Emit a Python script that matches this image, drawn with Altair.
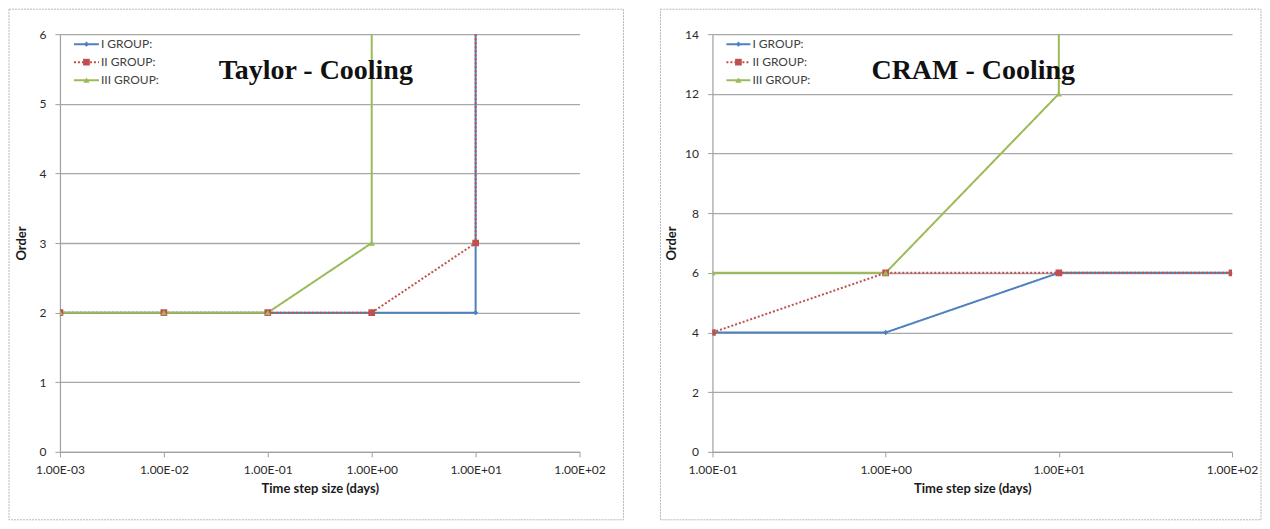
import altair as alt
import pandas as pd
import math

# ---------------- data ----------------
groups = ["I GROUP:", "II GROUP:", "III GROUP:"]
colors = ["#4F81BD", "#C0504D", "#9BBB59"]
shapes = ["diamond", "square", "triangle-up"]
dashes = [[1, 0], [2, 2], [1, 0]]
marker_sizes = [28, 45, 38]

OFF = 100  # order diverged: the series runs off the top of the axis

# Taylor - Cooling
taylor_I_x = [0.001, 0.01, 0.1, 1, 10, 10]
taylor_I_y = [2, 2, 2, 2, 2, OFF]
taylor_II_x = [0.001, 0.01, 0.1, 1, 10, 10]
taylor_II_y = [2, 2, 2, 2, 3, OFF]
taylor_III_x = [0.001, 0.01, 0.1, 1, 1]
taylor_III_y = [2, 2, 2, 3, OFF]

# CRAM - Cooling
cram_I_x = [0.1, 1, 10, 100]
cram_I_y = [4, 4, 6, 6]
cram_II_x = [0.1, 1, 10, 100]
cram_II_y = [4, 6, 6, 6]
cram_III_x = [0.1, 1, 10, 10]
cram_III_y = [6, 6, 12, OFF]

taylor_xticks = [0.001, 0.01, 0.1, 1, 10, 100]
taylor_xlabels = ["1.00E-03", "1.00E-02", "1.00E-01", "1.00E+00", "1.00E+01", "1.00E+02"]
taylor_yticks = [0, 1, 2, 3, 4, 5, 6]
cram_xticks = [0.1, 1, 10, 100]
cram_xlabels = ["1.00E-01", "1.00E+00", "1.00E+01", "1.00E+02"]
cram_yticks = [0, 2, 4, 6, 8, 10, 12, 14]

FONT = "Lato"
GRID = "#a8a8a8"
AXIS = "#a0a0a0"


def make_df(series):
    rows = []
    for g, (xs, ys) in zip(groups, series):
        for i, (x, y) in enumerate(zip(xs, ys)):
            rows.append({"group": g, "x": x, "y": y, "seq": i,
                         "msize": marker_sizes[groups.index(g)]})
    return pd.DataFrame(rows)


def panel(df, xticks, xlabels, ydomain, yticks, title, W, H, title_x,
          border, legend_x0, legend_x1, legend_tx, ytitle_x):
    first_exp = round(math.log10(xticks[0]))
    arr = "[" + ",".join("'%s'" % s for s in xlabels) + "]"
    label_expr = f"{arr}[round(log(datum.value)/LN10) - ({first_exp})]"

    xenc = alt.X("x:Q", scale=alt.Scale(type="log", domain=[xticks[0], xticks[-1]], nice=False),
                 axis=alt.Axis(values=xticks, labelExpr=label_expr, grid=False, tickSize=5,
                               tickColor=AXIS, domainColor=AXIS, domainWidth=1.2,
                               labelFont=FONT, labelFontSize=12, labelColor="#2a2a2a",
                               labelPadding=8, labelFlush=False, labelOverlap=False,
                               title="Time step size (days)", titleFont=FONT, titleFontSize=13,
                               titleFontWeight="bold", titleColor="#1a1a1a",
                               titleX=W / 2, titleY=37, titleBaseline="middle"))
    yenc = alt.Y("y:Q", scale=alt.Scale(domain=ydomain, nice=False, zero=True),
                 axis=alt.Axis(values=yticks, format="d", grid=True, gridColor=GRID, gridWidth=1.3,
                               tickSize=5, tickColor=AXIS, domainColor=AXIS, domainWidth=1.2,
                               labelFont=FONT, labelFontSize=12, labelColor="#2a2a2a",
                               labelPadding=9, title="Order", titleFont=FONT, titleFontSize=13,
                               titleFontWeight="bold", titleColor="#1a1a1a",
                               titleX=ytitle_x, titleY=H / 2, titleBaseline="middle"))
    color = alt.Color("group:N", scale=alt.Scale(domain=groups, range=colors), legend=None)

    base = alt.Chart(df)
    lines = base.mark_line(clip=True, strokeWidth=2).encode(
        x=xenc, y=yenc, color=color,
        strokeDash=alt.StrokeDash("group:N", scale=alt.Scale(domain=groups, range=dashes), legend=None),
        order="seq:Q")
    pts = base.mark_point(filled=True, clip=True, opacity=1).encode(
        x="x:Q", y="y:Q", color=color,
        shape=alt.Shape("group:N", scale=alt.Scale(domain=groups, range=shapes), legend=None),
        size=alt.Size("msize:Q", scale=None))

    one = pd.DataFrame({"t": [title]})
    frame = alt.Chart(one).mark_rect(fillOpacity=0, stroke="#b8b8b8", strokeWidth=1,
                                     strokeDash=[2, 1]).encode(
        x=alt.value(border[0]), x2=alt.value(border[1]),
        y=alt.value(border[2]), y2=alt.value(border[3]))
    ttl = alt.Chart(one).mark_text(font="Liberation Serif", fontSize=28, fontWeight="bold",
                                   color="#111111", align="center", baseline="alphabetic").encode(
        text="t:N", x=alt.value(title_x), y=alt.value(45))

    layers = [frame, lines, pts, ttl]
    rows_y = [10, 28, 46]
    for g, c, s, d, ms, ry in zip(groups, colors, shapes, dashes, marker_sizes, rows_y):
        ldf = pd.DataFrame({"name": [g]})
        lb = alt.Chart(ldf)
        layers.append(lb.mark_rule(color=c, strokeWidth=2, strokeDash=d).encode(
            x=alt.value(legend_x0), x2=alt.value(legend_x1), y=alt.value(ry)))
        layers.append(lb.mark_point(filled=True, opacity=1, color=c, shape=s, size=ms).encode(
            x=alt.value((legend_x0 + legend_x1) / 2), y=alt.value(ry)))
        layers.append(lb.mark_text(font=FONT, fontSize=12, color="#404040", align="left",
                                   baseline="middle").encode(
            text="name:N", x=alt.value(legend_tx), y=alt.value(ry)))

    return alt.layer(*layers).properties(width=W, height=H)


taylor_df = make_df([(taylor_I_x, taylor_I_y), (taylor_II_x, taylor_II_y),
                     (taylor_III_x, taylor_III_y)])
cram_df = make_df([(cram_I_x, cram_I_y), (cram_II_x, cram_II_y), (cram_III_x, cram_III_y)])

left = panel(taylor_df, taylor_xticks, taylor_xlabels, [0, 6], taylor_yticks,
             "Taylor - Cooling", 520, 418, 256, (-51, 564, -25, 486), 14, 39, 41, -38)
right = panel(cram_df, cram_xticks, cram_xlabels, [0, 14], cram_yticks,
              "CRAM - Cooling", 520, 418, 261, (-52, 549, -25, 486), 14, 38, 40, -41)

chart = alt.hconcat(left, right, spacing=35).properties(padding=0).configure_view(stroke=None)

chart.save("out.html", embed_options={"renderer": "svg", "actions": False})
